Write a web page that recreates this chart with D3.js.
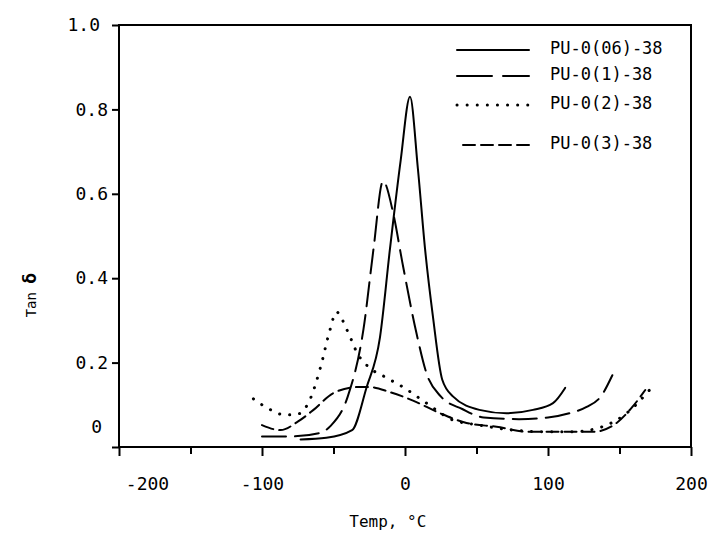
<!DOCTYPE html>
<html>
<head>
<meta charset="utf-8">
<script src="https://cdn.jsdelivr.net/npm/d3@7"></script>
<style>
  body { margin: 0; background: #fff; }
  svg { display: block; }
</style>
</head>
<body>
<div id="chart"></div>
<script>
// Data (temperature in °C, tan delta)
const seriesNames = ["PU-0(06)-38", "PU-0(1)-38", "PU-0(2)-38", "PU-0(3)-38"];

const pu06 = [
  [-73, 0.018], [-55, 0.022], [-37, 0.04], [-27, 0.14], [-17.5, 0.26], [-10.5, 0.47],
  [-3, 0.68], [3.5, 0.83], [9, 0.66], [14, 0.47], [19.5, 0.31], [26, 0.16],
  [33.5, 0.12], [52, 0.088], [71, 0.08], [89.5, 0.088], [103.5, 0.104], [112, 0.14]
];
const pu1 = [
  [-100, 0.025], [-80, 0.025], [-60, 0.033], [-52, 0.05], [-40, 0.12], [-29, 0.28],
  [-22, 0.47], [-15.4, 0.63], [-8, 0.55], [-2, 0.44], [8, 0.27], [15, 0.175],
  [25, 0.12], [40, 0.09], [55, 0.07], [80, 0.066], [100, 0.07], [115, 0.08],
  [127, 0.095], [137, 0.12], [145, 0.17]
];
const pu2 = [
  [-106, 0.114], [-95, 0.09], [-84, 0.076], [-75, 0.078], [-66, 0.116], [-59, 0.19],
  [-52.5, 0.277], [-48, 0.32], [-40.5, 0.277], [-33, 0.22], [-24.5, 0.187],
  [-14, 0.166], [-1.4, 0.142], [15, 0.104], [33.5, 0.064], [52, 0.052],
  [75.5, 0.04], [99, 0.036], [117, 0.036], [138, 0.048], [155, 0.08], [171, 0.135]
];
const pu3 = [
  [-100, 0.052], [-87, 0.04], [-75, 0.06], [-64, 0.088], [-50, 0.128], [-33, 0.142],
  [-24.5, 0.142], [-10.5, 0.13], [5.6, 0.11], [24.5, 0.08], [43, 0.057],
  [64, 0.048], [87, 0.036], [110.5, 0.036], [131.5, 0.036], [148, 0.057],
  [159, 0.095], [168, 0.135]
];

const xTicks = [-200, -100, 0, 100, 200];
const xMinorTicks = [-150, -50, 50, 150];
const yTicks = [0, 0.2, 0.4, 0.6, 0.8, 1.0];

function plotTan() {
  let width = 715;
  let height = 545;
  let margin = { top: 25, right: 24, bottom: 98, left: 119 };

  function chart(selection) {
    selection.each(function () {
      let chartWidth = width - margin.left - margin.right;
      let chartHeight = height - margin.top - margin.bottom;

      let svg = d3.select(this)
        .append("svg")
        .attr("width", width)
        .attr("height", height);

      let g = svg.append("g")
        .attr("transform", "translate(" + margin.left + "," + margin.top + ")");

      // Scales
      let xRange = d3.scaleLinear().domain([-200, 200]).range([0, chartWidth]);
      let yRange = d3.scaleLinear().domain([0, 1]).range([chartHeight, 0]);

      // Frame
      g.append("rect")
        .attr("width", chartWidth)
        .attr("height", chartHeight)
        .attr("fill", "none")
        .attr("stroke", "#000")
        .attr("stroke-width", 2);

      // x axis, major and minor ticks pointing down
      let xAxis = d3.axisBottom(xRange).tickValues(xTicks).tickSize(9).tickFormat(d3.format("d"));
      let xa = g.append("g")
        .attr("transform", "translate(0," + chartHeight + ")")
        .call(xAxis);
      xa.select(".domain").remove();
      xa.selectAll("line").attr("stroke-width", 2);
      xa.selectAll("text")
        .attr("y", 30)
        .attr("dy", "0.71em")
        .style("font-family", "'DejaVu Sans Mono', monospace")
        .style("font-size", "18px")
        .attr("fill", "#000")
        .attr("dx", d => d == -200 ? 28 : 0)
        .text(d => d3.format("d")(d).replace("−", "-"));

      let xm = g.append("g")
        .attr("transform", "translate(0," + chartHeight + ")")
        .call(d3.axisBottom(xRange).tickValues(xMinorTicks).tickSize(7).tickFormat(""));
      xm.select(".domain").remove();
      xm.selectAll("line").attr("stroke-width", 2);

      // y axis, ticks pointing left
      let yAxis = d3.axisLeft(yRange).tickValues(yTicks).tickSize(7).tickFormat(d => d == 0 ? "0" : d3.format(".1f")(d));
      let ya = g.append("g").call(yAxis);
      ya.select(".domain").remove();
      ya.selectAll("line").attr("stroke-width", 2);
      ya.selectAll("text")
        .attr("x", -11)
        .attr("dy", d => d == 0 ? "-0.8em" : "0.32em")
        .style("font-family", "'DejaVu Sans Mono', monospace")
        .style("font-size", "18px")
        .attr("fill", "#000")
        .attr("dx", d => d == 0 ? -6 : (d == 1 ? -8 : 0));

      // Axis titles
      svg.append("text")
        .attr("x", margin.left + xRange(-12))
        .attr("y", 527)
        .attr("text-anchor", "middle")
        .style("font-family", "'DejaVu Sans Mono', monospace")
        .style("font-size", "16px")
        .text("Temp, °C");

      let yt = svg.append("text")
        .attr("transform", "translate(36," + (margin.top + yRange(0.36)) + ") rotate(-90)")
        .attr("text-anchor", "middle")
        .style("font-family", "'DejaVu Sans Mono', monospace")
        .style("font-size", "14px");
      yt.append("tspan").text("Tan ");
      yt.append("tspan").attr("font-weight", "bold").style("font-size", "18px").text("δ");

      // Curves
      let valueLine = d3.line()
        .x(d => xRange(d[0]))
        .y(d => yRange(d[1]))
        .curve(d3.curveMonotoneX);

      let styles = [
        { dash: null, width: 2 },
        { dash: "24,9", width: 2 },
        { dash: "0.1,10", width: 3 },
        { dash: "12,6", width: 2 }
      ];
      let allSeries = [pu06, pu1, pu2, pu3];

      allSeries.forEach(function (s, i) {
        g.append("path")
          .datum(s)
          .attr("fill", "none")
          .attr("stroke", "#000")
          .attr("stroke-width", styles[i].width)
          .attr("stroke-linecap", "round")
          .attr("stroke-dasharray", styles[i].dash)
          .attr("d", valueLine);
      });

      // Legend
      let legendY = [50, 76, 105, 145];
      let legend = svg.append("g");
      seriesNames.forEach(function (name, i) {
        legend.append("line")
          .attr("x1", i == 3 ? 463 : 457)
          .attr("x2", 529)
          .attr("y1", legendY[i])
          .attr("y2", legendY[i])
          .attr("stroke", "#000")
          .attr("stroke-width", styles[i].width)
          .attr("stroke-linecap", "round")
          .attr("stroke-dasharray", i == 1 ? "35,11" : styles[i].dash);
        legend.append("text")
          .attr("x", 550)
          .attr("y", legendY[i])
          .attr("dy", "0.25em")
          .style("font-family", "'DejaVu Sans Mono', monospace")
          .style("font-size", "17px")
          .text(name);
      });
    });
  }

  return chart;
}

d3.select("#chart").call(plotTan());
</script>
</body>
</html>
